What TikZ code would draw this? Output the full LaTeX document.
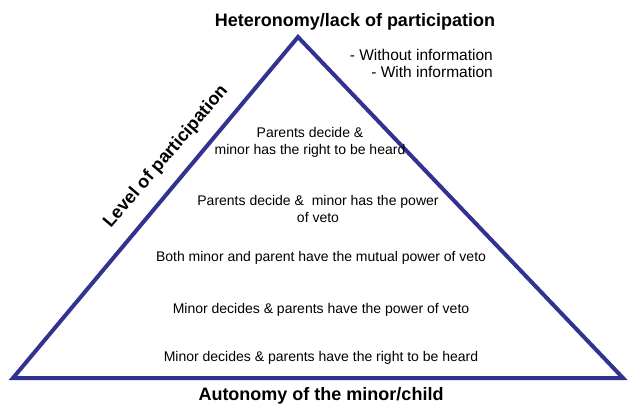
\documentclass[tikz,border=0pt]{standalone}
\usepackage{fontspec}
\setmainfont{Liberation Sans}
\usepackage{xcolor}
\usetikzlibrary{positioning}
\definecolor{pyramidblue}{RGB}{50,50,145}

\begin{document}
\begin{tikzpicture}[
        x=1pt, y=-1pt,
        level/.style={align=center, font=\fontsize{14}{17}\selectfont, inner sep=1pt},
        title/.style={font=\fontsize{18}{21}\selectfont\bfseries, inner sep=1pt},
        note/.style={anchor=east, font=\fontsize{15.5}{18}\selectfont, inner sep=1pt}]

        \useasboundingbox (0,0) rectangle (629,409);

        % Pyramid corners
        \coordinate (apex) at (298,37);
        \coordinate (left) at (13,378);
        \coordinate (right) at (623,378);
        \draw[pyramidblue, line width=4pt, line join=miter] (left) -- (apex) -- (right) -- cycle;

        % Titles
        \node[title] (top) at (355,22) {Heteronomy/lack of participation};
        \node[title] (bottom) at (321,396) {Autonomy of the minor/child};
        \node[title, rotate=49.5] (axis) at (166,157) {Level of participation};

        % Notes at the top
        \node[note] (noinfo) at (494,55) {- Without information};
        \node[note, below=3pt of noinfo.south east, anchor=north east] (info) {- With information};

        % Levels
        \node[level] (heard) at (310,142) {Parents decide \&\\minor has the right to be heard};
        \node[level] (veto) at (318,209) {Parents decide \&\ \ minor has the power\\of veto};
        \node[level] (mutual) at (321,258) {Both minor and parent have the mutual power of veto};
        \node[level] (minorveto) at (321,310) {Minor decides \& parents have the power of veto};
        \node[level] (minorheard) at (321,358) {Minor decides \& parents have the right to be heard};

    \end{tikzpicture}
\end{document}
